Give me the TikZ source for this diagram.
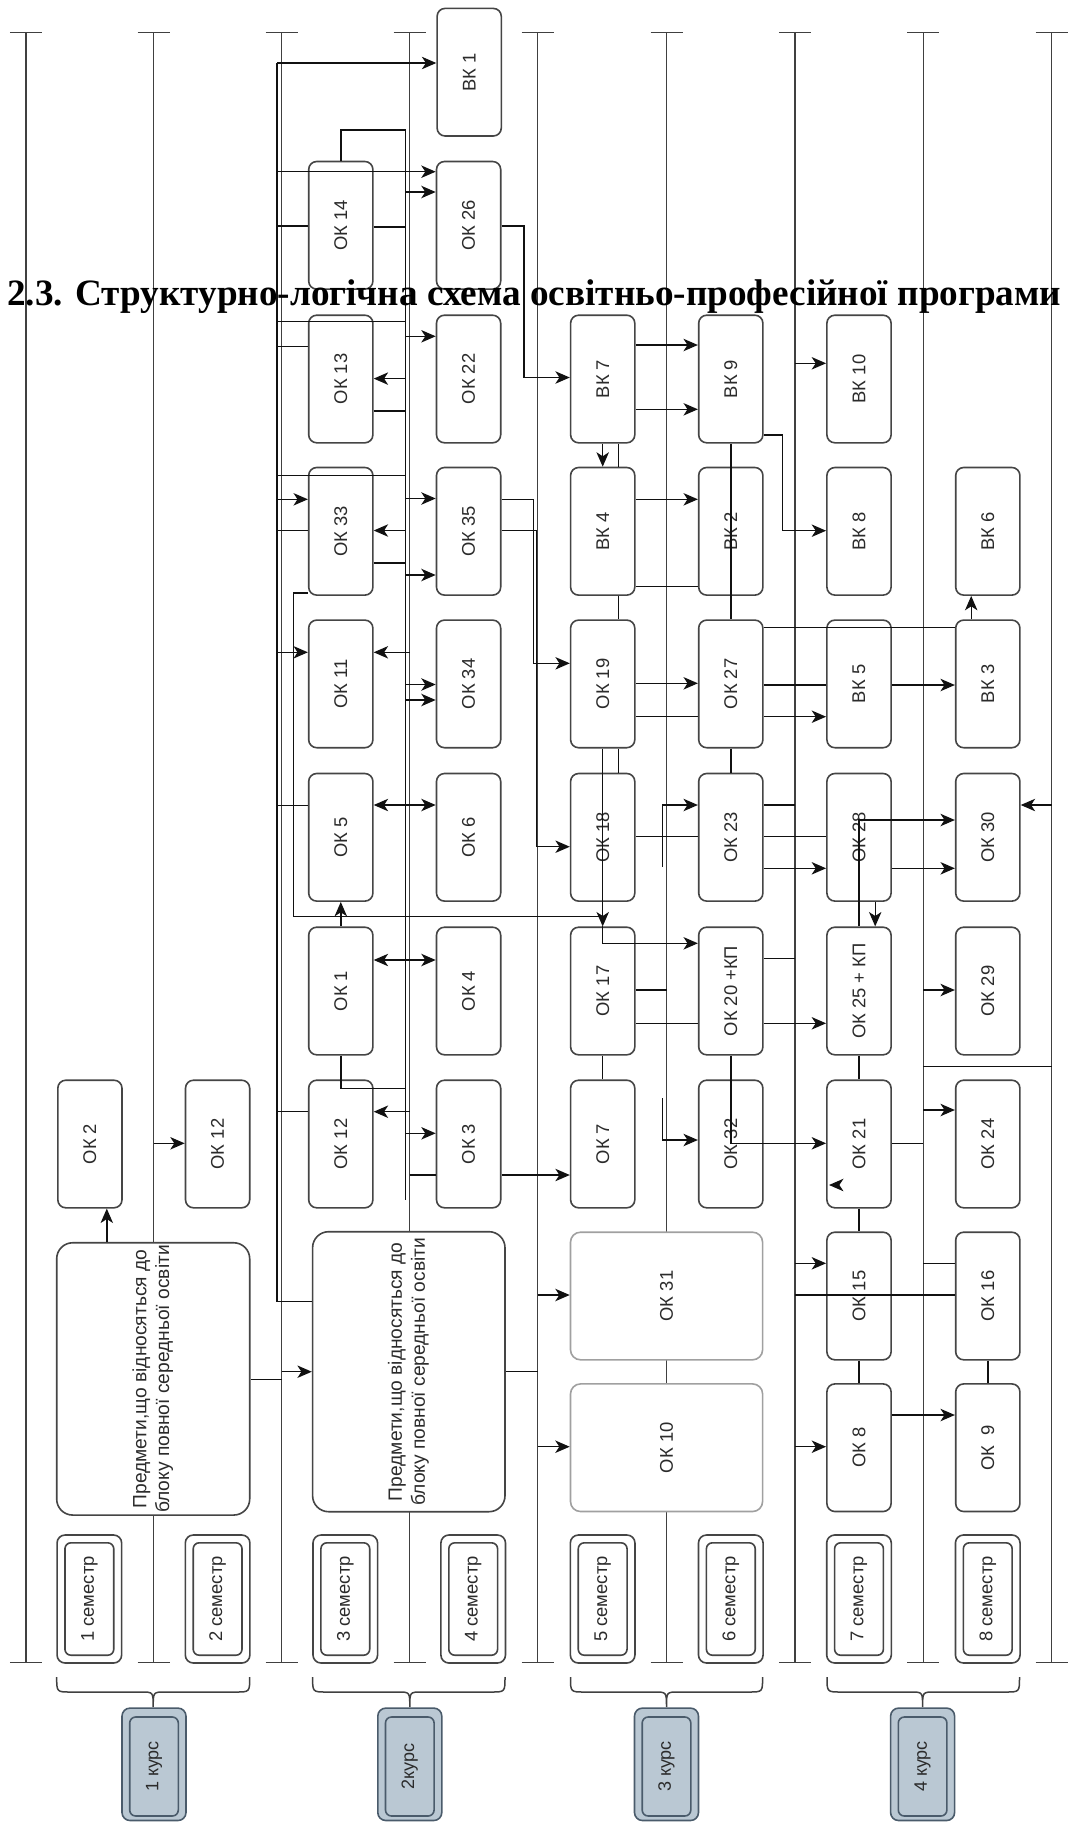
\documentclass[tikz,border=0pt]{standalone}
\usepackage{graphicx}
\usepackage{fontspec}
\setmainfont{Liberation Sans}
\newfontfamily\titlefont{Liberation Serif}
\usetikzlibrary{arrows.meta}
\definecolor{boxc}{HTML}{454545}
\definecolor{txtc}{HTML}{2B2B2B}
\definecolor{linec}{HTML}{111111}
\definecolor{colc}{HTML}{404040}
\definecolor{lightb}{HTML}{A0A0A0}
\definecolor{kursfill}{HTML}{BAC8D3}
\definecolor{kursdraw}{HTML}{4A5B6B}
\newcommand\lblfont{\fontsize{9.2pt}{11pt}\selectfont}
\newcommand\okb[4]{\node[okbox] (#1) at (#2,#3) {\rotatebox{90}{#4}};}
\newcommand\colln[2]{%
  \coordinate (ct#1) at (#2,32.3);
  \coordinate (cb#1) at (#2,1662.7);
  \draw[colline] (ct#1) -- (cb#1);
  \draw[colline] ([xshift=-8pt]ct#1) -- ([xshift=8pt]ct#1);
  \draw[colline] ([xshift=-8pt]cb#1) -- ([xshift=8pt]cb#1);}
\newcommand\semb[3]{%
  \node[semout] (#1o) at (#2,1599) {};
  \node[semin] (#1i) at (#2,1599) {\rotatebox{90}{#3}};}
\newcommand\kursb[3]{%
  \node[kursout] (#1o) at (#2,1764.3) {};
  \node[kursin] (#1i) at (#2,1766.5) {\rotatebox{90}{#3}};}
\tikzset{
  box/.style={draw=boxc, line width=0.8pt, fill=white, rounded corners=4pt, inner sep=0pt, text=txtc, font=\lblfont},
  okbox/.style={box, minimum width=32.1pt, minimum height=63.8pt},
  widebox/.style={box, draw=lightb, rounded corners=5pt, minimum width=96.05pt, minimum height=63.8pt},
  prbox/.style={box, rounded corners=8pt, font=\fontsize{9.6pt}{11.4pt}\selectfont},
  semout/.style={box, minimum width=32.3pt, minimum height=64pt},
  semin/.style={box, rounded corners=3pt, minimum width=24.4pt, minimum height=56.2pt},
  kursout/.style={box, fill=kursfill, draw=kursdraw, minimum width=32pt, minimum height=56.2pt},
  kursin/.style={box, fill=kursfill, draw=kursdraw, rounded corners=3pt, minimum width=24.3pt, minimum height=49.5pt, font=\fontsize{9pt}{11pt}\selectfont},
  conn/.style={draw=linec, line width=0.7pt},
  arr/.style={conn, -{Stealth[length=7.2pt,width=6.2pt,inset=2pt]}},
  darr/.style={conn, {Stealth[length=7.2pt,width=6.2pt,inset=2pt]}-{Stealth[length=7.2pt,width=6.2pt,inset=2pt]}},
  colline/.style={draw=colc, line width=0.75pt},
  brc/.style={draw=colc, line width=0.75pt}
}
\begin{document}
\begin{tikzpicture}[x=0.5pt,y=-0.5pt]
\useasboundingbox (0,0) rectangle (1068,1822);
\fill[white] (0,0) rectangle (1068,1822);
% column (timeline) lines
\colln{0}{25.8}
\colln{1}{153.6}
\colln{2}{281.7}
\colln{3}{409.5}
\colln{4}{537.6}
\colln{5}{666.7}
\colln{6}{794.9}
\colln{7}{923.3}
\colln{8}{1051.5}
% helper coordinates (bus lines and jogs)
\coordinate (busA) at (277,0);
\coordinate (busB) at (405.5,0);
\coordinate (busC) at (293.7,0);
\coordinate (j1) at (524,0);
\coordinate (j2) at (533.4,0);
\coordinate (j3) at (536.4,0);
\coordinate (v5) at (618.6,0);
\coordinate (j4) at (662.7,866.7);
\coordinate (j5) at (662.7,1098.3);
\coordinate (j6) at (782.3,0);
\coordinate (j7) at (971.2,0);
\coordinate (j8) at (875.2,0);
\coordinate (p2x) at (106.8,0);
\coordinate (sa) at (837,1185);
% boxes
\okb{bk1}{469.2}{72.2}{ВК 1}
\okb{ok14}{340.8}{225.3}{ОК 14}
\okb{ok26}{468.6}{225.3}{ОК 26}
\okb{ok13}{340.8}{379}{ОК 13}
\okb{ok22}{468.6}{379}{ОК 22}
\okb{bk7}{602.7}{379}{ВК 7}
\okb{bk9}{730.8}{379}{ВК 9}
\okb{bk10}{859}{379}{ВК 10}
\okb{ok33}{340.8}{531.3}{ОК 33}
\okb{ok35}{468.6}{531.3}{ОК 35}
\okb{bk4}{602.7}{531.3}{ВК 4}
\okb{bk2}{730.8}{531.3}{ВК 2}
\okb{bk8}{859}{531.3}{ВК 8}
\okb{bk6}{987.8}{531.3}{ВК 6}
\okb{ok11}{340.8}{683.9}{ОК 11}
\okb{ok34}{468.6}{683.9}{ОК 34}
\okb{ok19}{602.7}{683.9}{ОК 19}
\okb{ok27}{730.8}{683.9}{ОК 27}
\okb{bk5}{859}{683.9}{ВК 5}
\okb{bk3}{987.8}{683.9}{ВК 3}
\okb{ok5}{340.8}{837.3}{ОК 5}
\okb{ok6}{468.6}{837.3}{ОК 6}
\okb{ok18}{602.7}{837.3}{ОК 18}
\okb{ok23}{730.8}{837.3}{ОК 23}
\okb{ok28}{859}{837.3}{ОК 28}
\okb{ok30}{987.8}{837.3}{ОК 30}
\okb{ok1}{340.8}{991}{ОК 1}
\okb{ok4}{468.6}{991}{ОК 4}
\okb{ok17}{602.7}{991}{ОК 17}
\okb{ok20}{730.8}{991}{ОК 20 +КП}
\okb{ok25}{859}{991}{ОК 25 + КП}
\okb{ok29}{987.8}{991}{ОК 29}
\okb{ok2}{89.9}{1144}{ОК 2}
\okb{ok12a}{217.6}{1144}{ОК 12}
\okb{ok12b}{340.8}{1144}{ОК 12}
\okb{ok3}{468.6}{1144}{ОК 3}
\okb{ok7}{602.7}{1144}{ОК 7}
\okb{ok32}{730.8}{1144}{ОК 32}
\okb{ok21}{859}{1144}{ОК 21}
\okb{ok24}{987.8}{1144}{ОК 24}
\okb{ok15}{859}{1296}{ОК 15}
\okb{ok16}{987.8}{1296}{ОК 16}
\okb{ok8}{859}{1447.7}{ОК 8}
\okb{ok9}{987.8}{1447.7}{ОК\ \ 9}
\node[widebox] (ok31) at (666.55,1296) {\rotatebox{90}{ОК 31}};
\node[widebox] (ok10) at (666.55,1447.7) {\rotatebox{90}{ОК 10}};
\node[prbox, minimum width=96.5pt, minimum height=136.15pt] (pr1) at (153.2,1378.9)
  {\rotatebox{90}{\begin{tabular}{@{}c@{}}Предмети,що відносяться до\\блоку повної середньої освіти\end{tabular}}};
\node[prbox, minimum width=96.2pt, minimum height=140pt] (pr2) at (408.8,1371.7)
  {\rotatebox{90}{\begin{tabular}{@{}c@{}}Предмети,що відносяться до\\блоку повної середньої освіти\end{tabular}}};
% semester boxes
\semb{sem1}{89.35}{1 семестр}
\semb{sem2}{217.6}{2 семестр}
\semb{sem3}{345.3}{3 семестр}
\semb{sem4}{473.2}{4 семестр}
\semb{sem5}{602.65}{5 семестр}
\semb{sem6}{730.8}{6 семестр}
\semb{sem7}{859}{7 семестр}
\semb{sem8}{987.75}{8 семестр}
% braces
\draw[brc] (56.7,1677) .. controls (56.7,1692) .. (70.7,1692) -- (141.2,1692) .. controls (153.2,1692) .. (153.2,1707) .. controls (153.2,1692) .. (165.2,1692) -- (235.7,1692) .. controls (249.7,1692) .. (249.7,1677);
\draw[brc] (312.6,1677) .. controls (312.6,1692) .. (326.6,1692) -- (397.8,1692) .. controls (409.8,1692) .. (409.8,1707) .. controls (409.8,1692) .. (421.8,1692) -- (491,1692) .. controls (505,1692) .. (505,1677);
\draw[brc] (570.5,1677) .. controls (570.5,1692) .. (584.5,1692) -- (654.5,1692) .. controls (666.5,1692) .. (666.5,1707) .. controls (666.5,1692) .. (678.5,1692) -- (748.6,1692) .. controls (762.6,1692) .. (762.6,1677);
\draw[brc] (827,1677) .. controls (827,1692) .. (841,1692) -- (910.6,1692) .. controls (922.6,1692) .. (922.6,1707) .. controls (922.6,1692) .. (934.6,1692) -- (1005.5,1692) .. controls (1019.5,1692) .. (1019.5,1677);
% course boxes
\kursb{k1}{154}{1 курс}
\kursb{k2}{409.8}{2курс}
\kursb{k3}{666.5}{3 курс}
\kursb{k4}{922.6}{4 курс}
% ---- connectors: bus A
\draw[conn] (busA|-0,63) -- (busA|-0,1301.7);
\draw[arr] (busA|-0,63) -- (bk1.west|-0,63);
\draw[arr] (busA|-0,171.7) -- (ok26.west|-0,171.7);
\draw[conn] (ok14.west|-0,226) -- (busA|-0,226);
\draw[conn] (busA|-0,321.5) -- (busB|-0,321.5);
\draw[conn] (ok13.west|-0,346.7) -- (busA|-0,346.7);
\draw[conn] (busA|-0,475.3) -- (busB|-0,475.3);
\draw[arr] (busA|-0,499.3) -- (ok33.west|-0,499.3);
\draw[conn] (ok33.west|-0,530.7) -- (busA|-0,530.7);
\draw[arr] (busA|-0,652.3) -- (ok11.west|-0,652.3);
\draw[conn] (ok5.west|-0,805.7) -- (busA|-0,805.7);
\draw[conn] (ok12b.west|-0,1111.7) -- (busA|-0,1111.7);
\draw[conn] (pr2.west|-0,1301.7) -- (busA|-0,1301.7);
% bus B
\draw[conn] (busB|-0,130) -- (busB|-0,1200);
\draw[conn] (ok14.north) -- (ok14.north|-0,130) -- (busB|-0,130);
\draw[arr] (busB|-0,192) -- (ok26.west|-0,192);
\draw[conn] (ok14.east|-0,226.8) -- (busB|-0,226.8);
\draw[arr] (busB|-0,336.3) -- (ok22.west|-0,336.3);
\draw[arr] (busB|-0,378.6) -- (ok13.east|-0,378.6);
\draw[conn] (ok13.east|-0,410.9) -- (busB|-0,410.9);
\draw[arr] (busB|-0,498.5) -- (ok35.west|-0,498.5);
\draw[arr] (busB|-0,530.5) -- (ok33.east|-0,530.5);
\draw[conn] (ok33.east|-0,563) -- (busB|-0,563);
\draw[arr] (busB|-0,575) -- (ok35.west|-0,575);
\draw[arr] (ct3|-0,652.3) -- (ok11.east|-0,652.3);
\draw[arr] (busB|-0,684.5) -- (ok34.west|-0,684.5);
\draw[arr] (busB|-0,700) -- (ok34.west|-0,700);
\draw[darr] (ok5.east|-0,805) -- (ok6.west|-0,805);
\draw[darr] (ok1.east|-0,960) -- (ok4.west|-0,960);
\draw[arr] (ok1.north) -- (ok5.south);
\draw[conn] (ok1.south) -- (ok1.south|-0,1088.3) -- (busB|-0,1088.3);
\draw[arr] (ct3|-0,1111.7) -- (ok12b.east|-0,1111.7);
\draw[arr] (busB|-0,1133.3) -- (ok3.west|-0,1133.3);
\draw[conn] (ct3|-0,1175) -- (ok3.west|-0,1175);
\draw[arr] (ok3.east|-0,1175) -- (ok7.west|-0,1175);
\draw[conn] (ok33.west|-0,593) -- (busC|-0,593) -- (busC|-0,916.3) -- (ok17.north|-0,916.3);
% year 1-2 blocks
\draw[arr] (p2x|-pr1.north) -- (p2x|-ok2.south);
\draw[arr] (ct1|-0,1143.3) -- (ok12a.west|-0,1143.3);
\draw[conn] (pr1.east|-0,1379.3) -- (ct2|-0,1379.3);
\draw[arr] (ct2|-0,1371.7) -- (pr2.west|-0,1371.7);
\draw[conn] (pr2.east|-0,1371.7) -- (ct4|-0,1371.7);
% semesters 5-6
\draw[arr] (ok26.east|-0,226) -- (j1|-0,226) -- (j1|-0,377.5) -- (bk7.west|-0,377.5);
\draw[arr] (ok35.east|-0,499.3) -- (j2|-0,499.3) -- (j2|-0,663.3) -- (ok19.west|-0,663.3);
\draw[arr] (ok35.east|-0,530.7) -- (j3|-0,530.7) -- (j3|-0,846.7) -- (ok18.west|-0,846.7);
\draw[arr] (bk7.east|-0,345) -- (bk9.west|-0,345);
\draw[arr] (bk7.east|-0,409.3) -- (bk9.west|-0,409.3);
\draw[arr] (bk7.south) -- (bk4.north);
\draw[conn] (v5|-bk7.south) -- (v5|-bk4.north);
\draw[conn] (v5|-bk4.south) -- (v5|-ok19.north);
\draw[conn] (v5|-ok19.south) -- (v5|-ok18.north);
\draw[arr] (ok19.south) -- (ok17.north);
\draw[arr] (ok17.north) -- (ok17.north|-0,943.3) -- (ok20.west|-0,943.3);
\draw[arr] (bk4.east|-0,499.3) -- (bk2.west|-0,499.3);
\draw[conn] (bk4.east|-0,586.7) -- (bk2.west|-0,586.7);
\draw[conn] (bk9.south) -- (ok27.north);
\draw[conn] (ok27.south) -- (ok23.north);
\draw[arr] (ok19.east|-0,683.3) -- (ok27.west|-0,683.3);
\draw[conn] (ok19.east|-0,716.7) -- (ok27.west|-0,716.7);
\draw[conn] (ok18.east|-0,836.7) -- (ok23.west|-0,836.7);
\draw[arr] (j4) |- (ok23.west|-0,805);
\draw[conn] (ok17.east|-0,990) -- (ct5|-0,990);
\draw[conn] (ok17.east|-0,1023.3) -- (ok20.west|-0,1023.3);
\draw[arr] (ok20.east|-0,1023.3) -- (ok25.west|-0,1023.3);
\draw[conn] (ok20.east|-0,958.3) -- (ct6|-0,958.3);
\draw[arr] (j5) |- (ok32.west|-0,1140);
\draw[arr] (ok20.south) -- (ok20.south|-0,1143.3) -- (ok21.west|-0,1143.3);
\draw[conn] (ok17.south) -- (ok7.north);
\draw[arr] (ct4|-0,1295) -- (ok31.west|-0,1295);
\draw[arr] (ct4|-0,1446.7) -- (ok10.west|-0,1446.7);
% semesters 7-8
\draw[arr] (ct6|-0,363.3) -- (bk10.west|-0,363.3);
\draw[arr] (bk9.east|-0,435) -- (j6|-0,435) -- (j6|-0,530.7) -- (bk8.west|-0,530.7);
\draw[arr] (j7|-bk3.north) -- (j7|-bk6.south);
\draw[conn] (ok27.east|-0,627.7) -- (bk3.west|-0,627.7);
\draw[conn] (ok27.east|-0,685) -- (bk5.west|-0,685);
\draw[arr] (ok27.east|-0,716.7) -- (bk5.west|-0,716.7);
\draw[arr] (bk5.east|-0,685) -- (bk3.west|-0,685);
\draw[conn] (ok23.east|-0,805) -- (ct6|-0,805);
\draw[conn] (ok23.east|-0,836.7) -- (ok28.west|-0,836.7);
\draw[arr] (ok23.east|-0,868.3) -- (ok28.west|-0,868.3);
\draw[arr] (ok28.east|-0,868.3) -- (ok30.west|-0,868.3);
\draw[arr] (ct8|-0,805) -- (ok30.east|-0,805);
\draw[arr] (ok25.north) -- (ok25.north|-0,820) -- (ok30.west|-0,820);
\draw[conn] (ok25.south) -- (ok21.north);
\draw[conn] (ok21.south) -- (ok15.north);
\draw[conn] (ok15.south) -- (ok8.north);
\draw[arr] (j8|-ok28.south) -- (j8|-ok25.north);
\draw[arr] (ct7|-0,990) -- (ok29.west|-0,990);
\draw[arr] (ct7|-0,1110) -- (ok24.west|-0,1110);
\draw[conn] (ok21.east|-0,1143.3) -- (ct7|-0,1143.3);
\draw[conn] (ct7|-0,1066.7) -- (ct8|-0,1066.7);
\draw[arr] (ct6|-0,1263.3) -- (ok15.west|-0,1263.3);
\draw[conn] (ct6|-0,1295) -- (ok16.west|-0,1295);
\draw[conn] (ok16.west|-0,1263.3) -- (ct7|-0,1263.3);
\draw[arr] (ok8.east|-0,1415) -- (ok9.west|-0,1415);
\draw[arr] (ct6|-0,1446.7) -- (ok8.west|-0,1446.7);
\draw[conn] (ok16.south) -- (ok9.north);
\draw[arr] (sa) -- ++(-8,0);
% title
\node[anchor=base west, inner sep=0pt] (title) at (6.9,305)
  {\resizebox{527pt}{!}{\titlefont\bfseries\fontsize{17.6pt}{20pt}\selectfont 2.3. Структурно-логічна схема освітньо-професійної програми}};
\end{tikzpicture}
\end{document}
